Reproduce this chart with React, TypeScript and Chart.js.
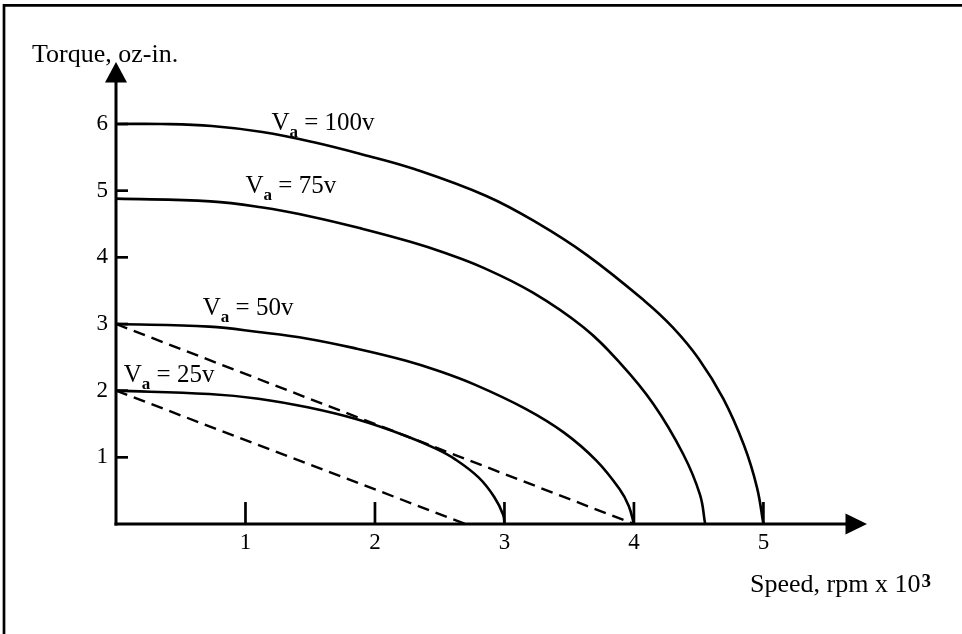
import React, { useEffect, useRef } from "react";
import { Chart, registerables } from "chart.js";

Chart.register(...registerables);

// ---- data (speed in rpm x 10^3, torque in oz-in.) ----
const speedTicks = [1, 2, 3, 4, 5];
const torqueTicks = [1, 2, 3, 4, 5, 6];

const va100Speed = [0, 0.35, 0.74, 1.13, 1.52, 1.91, 2.31, 2.86, 3.25, 3.64, 4.08, 4.3, 4.5, 4.69, 4.85, 4.95, 5];
const va100Torque = [6, 6, 5.97, 5.88, 5.73, 5.54, 5.32, 4.92, 4.52, 4.03, 3.35, 2.95, 2.48, 1.88, 1.18, 0.55, 0];

const va75Speed = [0, 0.73, 1.12, 1.51, 1.9, 2.28, 2.52, 2.83, 3.22, 3.61, 3.89, 4.15, 4.38, 4.51, 4.55];
const va75Torque = [4.88, 4.84, 4.75, 4.61, 4.43, 4.23, 4.08, 3.85, 3.47, 2.95, 2.42, 1.8, 1.05, 0.44, 0];

const va50Speed = [0, 0.72, 1.1, 1.48, 1.86, 2.24, 2.47, 2.77, 3.16, 3.46, 3.71, 3.89, 3.96, 4];
const va50Torque = [3, 2.96, 2.88, 2.78, 2.63, 2.45, 2.31, 2.09, 1.73, 1.37, 0.95, 0.52, 0.27, 0];

const va25Speed = [0, 0.72, 1.1, 1.48, 1.86, 2.24, 2.47, 2.62, 2.8, 2.92, 2.99, 3];
const va25Torque = [2, 1.95, 1.88, 1.75, 1.57, 1.32, 1.13, 0.97, 0.7, 0.41, 0.14, 0];

const load1Speed = [0, 4];
const load1Torque = [3, 0];
const load2Speed = [0, 2.7];
const load2Torque = [2, 0];

// curve labels: [prefix, subscript, suffix, speed, torque]
const curveLabels: [string, string, string, number, number][] = [
  ["V", "a", " = 100v", 1.2, 5.91],
  ["V", "a", " = 75v", 1.0, 4.96],
  ["V", "a", " = 50v", 0.67, 3.13],
  ["V", "a", " = 25v", 0.06, 2.13],
];

const yTitle = "Torque, oz-in.";
const xTitle = "Speed, rpm x 10";
const xTitleSup = "3";

const SERIF = '"Liberation Serif", "Times New Roman", serif';

const zip = (xs: number[], ys: number[]) => xs.map((x, i) => ({ x, y: ys[i] }));

const solid = (data: { x: number; y: number }[]) => ({
  data,
  borderColor: "#000",
  borderWidth: 2.6,
  pointRadius: 0,
  tension: 0.4,
  fill: false,
  clip: false as any,
});

const dashed = (data: { x: number; y: number }[]) => ({
  data,
  borderColor: "#000",
  borderWidth: 2.4,
  borderDash: [12, 7],
  pointRadius: 0,
  fill: false,
  clip: false as any,
});

const decorPlugin = {
  id: "decor",
  beforeDatasetsDraw(chart: any) {
    const { ctx, chartArea, scales } = chart;
    const xs = scales.x;
    const ys = scales.y;
    const x0 = xs.getPixelForValue(0);
    const y0 = ys.getPixelForValue(0);
    const xEnd = xs.getPixelForValue(xs.max);
    const yEnd = ys.getPixelForValue(ys.max);
    ctx.save();
    // frame (left and top edges visible)
    ctx.strokeStyle = "#000";
    ctx.lineWidth = 2.7;
    ctx.beginPath();
    ctx.moveTo(4, 700);
    ctx.lineTo(4, 5.3);
    ctx.lineTo(1000, 5.3);
    ctx.stroke();

    ctx.lineWidth = 3;
    ctx.lineCap = "butt";
    // y axis
    ctx.beginPath();
    ctx.moveTo(x0, y0 + 1.5);
    ctx.lineTo(x0, yEnd + 20);
    ctx.stroke();
    ctx.fillStyle = "#000";
    ctx.beginPath();
    ctx.moveTo(x0, yEnd);
    ctx.lineTo(x0 - 11, yEnd + 20.5);
    ctx.lineTo(x0 + 11, yEnd + 20.5);
    ctx.closePath();
    ctx.fill();
    // x axis
    ctx.beginPath();
    ctx.moveTo(x0 - 1.5, y0);
    ctx.lineTo(xEnd - 20, y0);
    ctx.stroke();
    ctx.beginPath();
    ctx.moveTo(xEnd, y0);
    ctx.lineTo(xEnd - 21.5, y0 - 10.5);
    ctx.lineTo(xEnd - 21.5, y0 + 10.5);
    ctx.closePath();
    ctx.fill();
    // tick marks (inside the plot)
    ctx.lineWidth = 2.7;
    torqueTicks.forEach((v) => {
      const py = ys.getPixelForValue(v);
      ctx.beginPath();
      ctx.moveTo(x0, py);
      ctx.lineTo(x0 + 12, py);
      ctx.stroke();
    });
    speedTicks.forEach((v) => {
      const px = xs.getPixelForValue(v);
      ctx.beginPath();
      ctx.moveTo(px, y0);
      ctx.lineTo(px, y0 - 22);
      ctx.stroke();
    });

    // axis titles
    ctx.textBaseline = "alphabetic";
    ctx.textAlign = "left";
    ctx.font = `26px ${SERIF}`;
    ctx.fillText(yTitle, chartArea.left - 84, chartArea.top);
    const tx = chartArea.right - 117;
    const ty = y0 + 68;
    ctx.fillText(xTitle, tx, ty);
    const w = ctx.measureText(xTitle).width;
    ctx.font = `bold 19px ${SERIF}`;
    ctx.fillText(xTitleSup, tx + w + 1, ty - 5);

    // curve labels
    curveLabels.forEach(([pre, sub, suf, sx, sy]) => {
      const lx = xs.getPixelForValue(sx);
      const ly = ys.getPixelForValue(sy);
      ctx.font = `25px ${SERIF}`;
      ctx.fillText(pre, lx, ly);
      const w1 = ctx.measureText(pre).width;
      ctx.font = `bold 17px ${SERIF}`;
      ctx.fillText(sub, lx + w1, ly + 7);
      const w2 = ctx.measureText(sub).width;
      ctx.font = `25px ${SERIF}`;
      ctx.fillText(suf, lx + w1 + w2, ly);
    });
    ctx.restore();
  },
};

export default function App() {
  const ref = useRef<HTMLCanvasElement | null>(null);

  useEffect(() => {
    if (!ref.current) return;
    const chart = new Chart(ref.current, {
      type: "line",
      data: {
        datasets: [
          solid(zip(va100Speed, va100Torque)),
          solid(zip(va75Speed, va75Torque)),
          solid(zip(va50Speed, va50Torque)),
          solid(zip(va25Speed, va25Torque)),
          dashed(zip(load1Speed, load1Torque)),
          dashed(zip(load2Speed, load2Torque)),
        ] as any,
      },
      options: {
        animation: false,
        responsive: false,
        maintainAspectRatio: false,
        layout: { padding: { left: 0, top: 62, right: 95, bottom: 0 } },
        plugins: {
          legend: { display: false },
          tooltip: { enabled: false },
          title: { display: false },
        },
        scales: {
          x: {
            type: "linear",
            min: 0,
            max: 5.8,
            grid: { display: false, drawTicks: false },
            border: { display: false },
            afterFit: (s: any) => {
              s.height = 110;
            },
            afterBuildTicks: (s: any) => {
              s.ticks = speedTicks.map((v) => ({ value: v }));
            },
            ticks: {
              color: "#000",
              padding: 5,
              maxRotation: 0,
              autoSkip: false,
              font: { family: SERIF, size: 23 },
              callback: (v: any) => String(v),
            },
          },
          y: {
            type: "linear",
            min: 0,
            max: 6.93,
            grid: { display: false, drawTicks: false },
            border: { display: false },
            afterFit: (s: any) => {
              s.width = 116;
            },
            afterBuildTicks: (s: any) => {
              s.ticks = torqueTicks.map((v) => ({ value: v }));
            },
            ticks: {
              color: "#000",
              padding: 8,
              autoSkip: false,
              font: { family: SERIF, size: 23 },
              callback: (v: any) => String(v),
            },
          },
        },
      },
      plugins: [decorPlugin],
    });
    return () => chart.destroy();
  }, []);

  return (
    <div
      style={{
        position: "fixed",
        left: 0,
        top: 0,
        width: 962,
        height: 634,
        background: "#fff",
      }}
    >
      <canvas ref={ref} width={962} height={634} style={{ display: "block" }} />
    </div>
  );
}
